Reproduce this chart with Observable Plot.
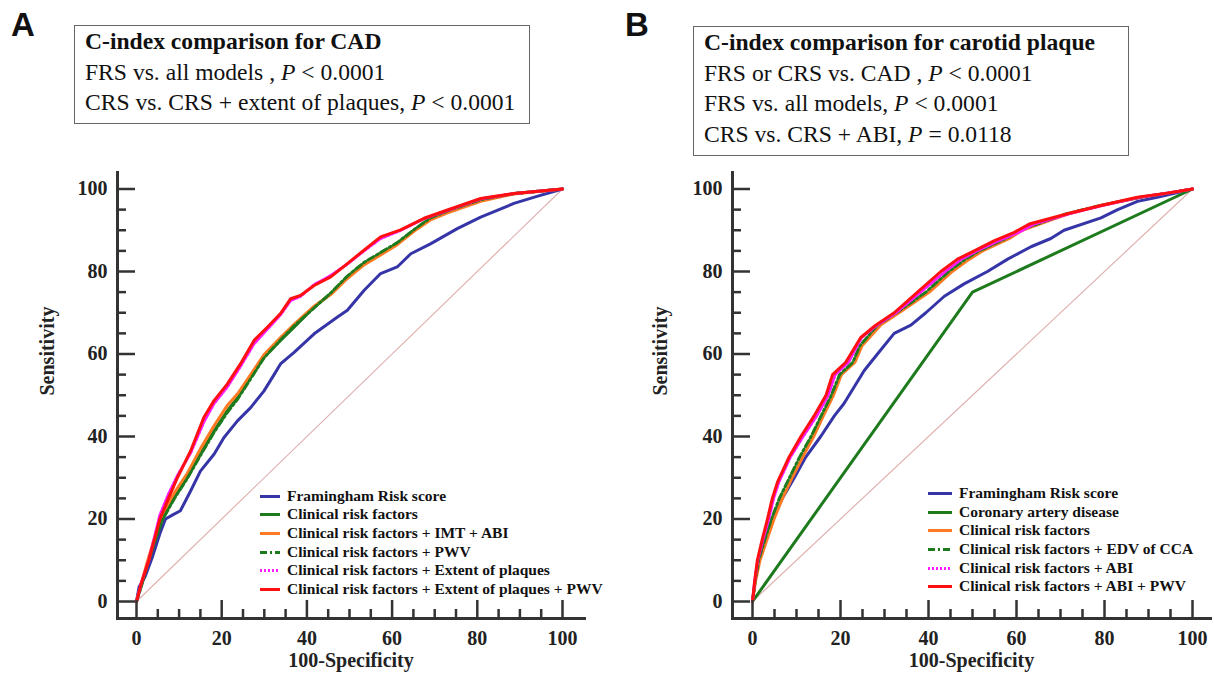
<!DOCTYPE html>
<html><head><meta charset="utf-8">
<script src="https://cdn.jsdelivr.net/npm/d3@7"></script>
<script src="https://cdn.jsdelivr.net/npm/@observablehq/plot@0.6"></script>
<style>
body{margin:0;background:#fff;}
#root{position:relative;width:1214px;height:676px;overflow:hidden;font-family:"Liberation Serif","Times New Roman",serif;color:#111;}
.letter{position:absolute;font-family:"Liberation Sans",Arial,sans-serif;font-weight:bold;font-size:33px;line-height:33px;}
.box{position:absolute;border:1.5px solid #666;box-sizing:border-box;padding:0 0 0 10px;}
.box div{font-size:23.6px;line-height:30.5px;white-space:nowrap;}
.box div.t{font-weight:bold;}
.legend{position:absolute;font-weight:bold;font-size:15.5px;}
.legend .row{position:relative;height:18.7px;line-height:18.7px;white-space:nowrap;}
.legend svg{position:absolute;left:0;top:0;}
.plot{position:absolute;top:160px;}
</style></head>
<body><div id="root"></div>
<script>
// ---------- data ----------
const ticksMajor = [0, 20, 40, 60, 80, 100];
const ticksMinor = [5, 10, 15, 25, 30, 35, 45, 50, 55, 65, 70, 75, 85, 90, 95];
const diagonal = [0, 100];

// Panel A (CAD)
const aNames = ["Framingham Risk score", "Clinical risk factors", "Clinical risk factors + IMT + ABI",
  "Clinical risk factors + PWV", "Clinical risk factors + Extent of plaques", "Clinical risk factors + Extent of plaques + PWV"];
const aFRS_x = [0, 0.6, 2, 3.8, 5.5, 6.8, 8.5, 10.3, 12.7, 15, 18.2, 20.5, 23.7, 26.8, 29.9, 32.3, 33.8, 37, 41.7, 47.1, 49.5, 53.4, 57.3, 61.2, 64.4, 69, 75.3, 80.8, 88.6, 94, 100];
const aFRS_y = [0, 3.5, 6, 11, 16.5, 20, 21, 22, 26.8, 31.6, 35.7, 39.7, 43.8, 47, 51, 55, 57.6, 60.4, 64.9, 68.9, 70.6, 75.4, 79.5, 81.1, 84.3, 86.7, 90.4, 93.2, 96.5, 98.2, 100];
const aCRF_x = [0, 1, 2.5, 4.2, 6, 8.8, 11.9, 15, 18.2, 21.3, 23.7, 26.8, 29.9, 33.8, 37, 41.7, 45.6, 49.5, 53.4, 57.3, 61.2, 65.2, 69, 73, 80.8, 88.6, 100];
const aCRF_y = [0, 3.5, 8.9, 14.5, 20, 25.1, 30, 35.7, 41.4, 46.2, 49.4, 54.3, 59.2, 63.3, 66.5, 71.4, 74.6, 78.7, 81.9, 84.3, 86.8, 90, 92.9, 94.5, 97.3, 98.9, 100];
const aIMT_y = [0, 3.8, 9.5, 15.3, 21, 26.2, 31, 37, 42.6, 47.5, 50.3, 55, 59.8, 64, 67.2, 71.6, 74.4, 78.3, 81.6, 84, 86.5, 89.8, 92.5, 94.2, 97, 98.8, 100];
const aPWV_y = [0, 3.2, 8.5, 14.2, 19.6, 24.8, 29.8, 35.4, 41, 45.8, 49, 54, 59, 63.4, 66.8, 71.2, 74.8, 78.9, 82.2, 84.6, 87, 90.2, 93, 94.7, 97.4, 98.9, 100];
const aEXT_x = [0, 1, 2.9, 4.2, 5.5, 7.5, 9.6, 12.7, 15.8, 18.2, 21.3, 24.4, 27.6, 30.7, 33.8, 36.2, 38.5, 41.7, 45.6, 49.5, 53.4, 57.3, 62, 67.5, 73, 80.8, 88.6, 100];
const aEXT_y = [0, 4, 10, 15.5, 21, 26, 30.5, 36, 43.5, 48, 52, 57, 62.5, 66, 69.5, 73, 74, 76.8, 79, 81.8, 85, 88, 90, 92.8, 94.8, 97.6, 98.9, 100];
const aEXTP_y = [0, 4, 10, 15, 20, 25, 30, 36.5, 44.6, 48.7, 52.7, 57.6, 63.3, 66.5, 69.8, 73.4, 74.2, 76.6, 78.7, 81.9, 85.2, 88.4, 90.1, 92.9, 94.9, 97.7, 98.9, 100];

// Panel B (carotid plaque)
const bNames = ["Framingham Risk score", "Coronary artery disease", "Clinical risk factors",
  "Clinical risk factors + EDV of CCA", "Clinical risk factors + ABI", "Clinical risk factors + ABI + PWV"];
const bFRS_x = [0, 0.6, 1.5, 3, 4.5, 6.8, 9.5, 12.1, 15.5, 18.6, 20.8, 23.1, 25.4, 28.4, 32.2, 36, 39.4, 43.6, 48.1, 53.4, 58, 63.3, 67.8, 70.8, 79.2, 83, 87.5, 92, 100];
const bFRS_y = [0, 5, 10, 15, 20, 25, 30, 35, 40, 45, 48, 52, 56, 60, 65, 67, 70, 74, 77, 80, 83, 86, 88, 90, 93, 95, 97, 98, 100];
const bCAD_x = [0, 50, 100];
const bCAD_y = [0, 75, 100];
const bCRF_x = [0, 0.7, 1.7, 3.3, 4.9, 6.8, 9, 11.4, 13.9, 16.1, 18.4, 20.2, 23.3, 24.9, 29.1, 33.3, 40.2, 45.4, 49.3, 52.3, 58.4, 61.3, 66.5, 71.8, 79.2, 88.3, 94.3, 100];
const bEDV_x = [0, 0.6, 1.4, 2.8, 4.3, 6.1, 8.4, 10.7, 13.3, 15.6, 17.9, 19.8, 22.8, 24.4, 28.4, 32.7, 39.4, 44.6, 48.4, 51.5, 57.6, 60.7, 66, 71.4, 79, 88.2, 94.3, 100];
const bCRF_y = [0, 5, 10, 15, 20, 25, 30, 35, 40, 45, 50, 55, 58, 62, 67, 70, 75, 80, 83, 85, 88, 90, 92, 94, 96, 98, 99, 100];
const bABI_x = [0, 0.5, 1.2, 2.4, 3.7, 4.8, 6, 8.6, 11.5, 14.6, 17.2, 18.8, 21.8, 24.8, 28.3, 32.6, 38.2, 43.8, 47.5, 51, 56, 60.5, 64, 72, 79.5, 88, 94.3, 100];
const bPWV_x = [0, 0.5, 1.1, 2.2, 3.4, 4.5, 5.7, 8.3, 11, 14, 16.7, 18.2, 21.2, 24.6, 28, 32.2, 37.5, 42.8, 46.6, 50.4, 55, 59.5, 62.9, 71.6, 79.2, 87.5, 94.3, 100];
const bPWV_y = [0, 5, 10, 15, 20, 25, 29, 35, 40, 45, 50, 55, 58, 64, 67, 70, 75, 80, 83, 85, 87.5, 89.5, 91.5, 94, 96, 98, 99, 100];

// ---------- styles ----------
const C = {blue: "#3535a8", green: "#1d7a1d", orange: "#ff7a22", magenta: "#ff1aff", red: "#ff1010"};
const solid = null, dashdot = "7,3,2,3", dotted = "2,2";

const seriesA = [
  {name: aNames[0], x: aFRS_x, y: aFRS_y, color: C.blue, dash: solid},
  {name: aNames[1], x: aCRF_x, y: aCRF_y, color: C.green, dash: solid},
  {name: aNames[2], x: aCRF_x, y: aIMT_y, color: C.orange, dash: solid},
  {name: aNames[3], x: aCRF_x, y: aPWV_y, color: C.green, dash: dashdot},
  {name: aNames[4], x: aEXT_x, y: aEXT_y, color: C.magenta, dash: dotted},
  {name: aNames[5], x: aEXT_x, y: aEXTP_y, color: C.red, dash: solid}
];
const seriesB = [
  {name: bNames[0], x: bFRS_x, y: bFRS_y, color: C.blue, dash: solid},
  {name: bNames[1], x: bCAD_x, y: bCAD_y, color: C.green, dash: solid},
  {name: bNames[2], x: bCRF_x, y: bCRF_y, color: C.orange, dash: solid},
  {name: bNames[3], x: bEDV_x, y: bCRF_y, color: C.green, dash: dashdot},
  {name: bNames[4], x: bABI_x, y: bPWV_y, color: C.magenta, dash: dotted},
  {name: bNames[5], x: bPWV_x, y: bPWV_y, color: C.red, dash: solid}
];

function panel(series, g) {
  const axisColor = "#333", textColor = "#222";
  const marks = [
    Plot.line(diagonal, {x: d => d, y: d => d, stroke: "#e0b2b2", strokeWidth: 1.2}),
    ...series.map(s => Plot.line(s.x.map((x, i) => ({x, y: s.y[i]})), {
      x: "x", y: "y", stroke: s.color, strokeWidth: 3, strokeDasharray: s.dash, strokeLinejoin: "round"
    })),
    // inward ticks (no text)
    Plot.axisX({ticks: ticksMinor, tickSize: -9, fill: "none", stroke: axisColor, strokeWidth: 2.5, label: null}),
    Plot.axisX({ticks: ticksMajor, tickSize: -18, fill: "none", stroke: axisColor, strokeWidth: 2.5, label: null}),
    Plot.axisY({ticks: ticksMinor, tickSize: -9, fill: "none", stroke: axisColor, strokeWidth: 2.5, label: null}),
    Plot.axisY({ticks: ticksMajor, tickSize: -18, fill: "none", stroke: axisColor, strokeWidth: 2.5, label: null}),
    // tick labels
    Plot.text(ticksMajor, {x: d => d, frameAnchor: "bottom", dy: 26, fontSize: 20, fontWeight: "bold", fill: textColor}),
    Plot.text(ticksMajor, {y: d => d, frameAnchor: "left", dx: -10, textAnchor: "end", fontSize: 20, fontWeight: "bold", fill: textColor}),
    // axis lines
    Plot.frame({anchor: "left", stroke: axisColor, strokeWidth: 3}),
    Plot.frame({anchor: "bottom", stroke: axisColor, strokeWidth: 3}),
    // axis titles
    Plot.text(["Sensitivity"], {frameAnchor: "left", dx: -g.ytitle, rotate: -90, fontSize: 20, fontWeight: "bold", fill: textColor}),
    Plot.text(["100-Specificity"], {frameAnchor: "bottom", dy: 48.5, fontSize: 20, fontWeight: "bold", fill: textColor})
  ];
  const svg = Plot.plot({
    width: g.width, height: 516,
    marginLeft: g.ml, marginRight: g.mr, marginTop: 12, marginBottom: 58,
    x: {domain: [0, 100], insetLeft: g.il, insetRight: g.ir},
    y: {domain: [0, 100], insetTop: 16.5, insetBottom: 17},
    style: {fontFamily: '"Liberation Serif","Times New Roman",serif', fontWeight: "bold", fontSize: "20px", color: textColor, background: "transparent", overflow: "visible"},
    marks
  });
  svg.classList.add("plot");
  svg.style.left = g.left + "px";
  return svg;
}

const root = document.getElementById("root");
root.appendChild(panel(seriesA, {left: 0, width: 600, ml: 117, mr: 16, il: 19, ir: 22, ytitle: 70}));
root.appendChild(panel(seriesB, {left: 607, width: 607, ml: 125, mr: 4, il: 20, ir: 18, ytitle: 72}));

// panel letters
function letter(t, x, y) {
  const d = document.createElement("div");
  d.className = "letter"; d.textContent = t;
  d.style.left = x + "px"; d.style.top = y + "px";
  root.appendChild(d);
}
letter("A", 11, 8);
letter("B", 625, 8);

// annotation boxes
const boxA = [["t", "C-index comparison for CAD"], ["", "FRS vs. all models ,  <i>P</i> &lt; 0.0001"], ["", "CRS vs. CRS + extent of plaques, <i>P</i> &lt; 0.0001"]];
const boxB = [["t", "C-index comparison for carotid plaque"], ["", "FRS or CRS vs. CAD ,  <i>P</i> &lt; 0.0001"], ["", "FRS vs. all models, <i>P</i> &lt; 0.0001"], ["", "CRS vs. CRS + ABI, <i>P</i> = 0.0118"]];
function box(lines, x, y, w, h) {
  const d = document.createElement("div");
  d.className = "box";
  Object.assign(d.style, {left: x + "px", top: y + "px", width: w + "px", height: h + "px"});
  lines.forEach(([c, html]) => { const l = document.createElement("div"); l.className = c; l.innerHTML = html; d.appendChild(l); });
  root.appendChild(d);
}
box(boxA, 74, 25, 456, 99);
box(boxB, 693, 26, 436, 130);

// legends
function legend(series, x, y, sw) {
  const d = document.createElement("div");
  d.className = "legend";
  Object.assign(d.style, {left: x + "px", top: y + "px"});
  series.forEach(s => {
    const r = document.createElement("div");
    r.className = "row"; r.style.paddingLeft = (sw + 7) + "px";
    const svg = d3.create("svg").attr("width", sw).attr("height", 18.7);
    svg.append("line").attr("x1", 0).attr("x2", sw).attr("y1", 9.5).attr("y2", 9.5)
      .attr("stroke", s.color).attr("stroke-width", 3).attr("stroke-dasharray", s.dash);
    r.appendChild(svg.node());
    r.appendChild(document.createTextNode(s.name));
    d.appendChild(r);
  });
  root.appendChild(d);
}
legend(seriesA, 260, 486.5, 20);
legend(seriesB, 928, 484, 24);
</script>
</body></html>
